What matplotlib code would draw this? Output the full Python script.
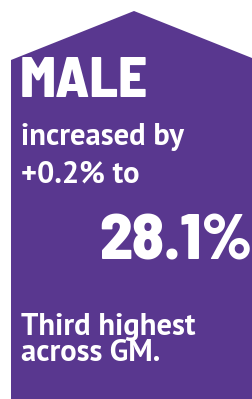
import matplotlib
matplotlib.use("Agg")
import matplotlib.pyplot as plt
from matplotlib.patches import Polygon

# card content
group = "MALE"
change = "+0.2%"
value = "28.1%"
rank = "Third"
area = "GM"

purple = "#59378f"
W, H = 252, 399

fig = plt.figure(figsize=(W / 100, H / 100), dpi=100)
ax = fig.add_axes([0, 0, 1, 1])
ax.set_xlim(0, W)
ax.set_ylim(H, 0)
ax.axis("off")

# house shaped background (pixel layout)
house = [(11, H), (11, 60), (134, 11), (257, 60), (257, H)]
ax.add_patch(Polygon(house, closed=True, facecolor=purple, edgecolor="none"))

big = dict(color="white", family="Barlow Semi Condensed", weight=800, va="baseline", ha="left")
body = dict(color="white", family="PT Sans", weight="bold", va="baseline", ha="left", fontsize=22)

ax.text(20, 97, group, fontsize=41, **big)
ax.text(21, 145, "increased by", **body)
ax.text(21, 183, f"{change} to", **body)
ax.text(99, 260, value, fontsize=46.5, **big)
ax.text(21, 335, f"{rank} highest", **body)
ax.text(21, 361, f"across {area}.", **body)

fig.savefig("out.png", dpi=100)
